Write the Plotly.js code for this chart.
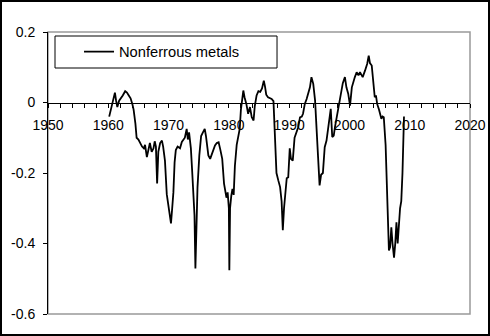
<!DOCTYPE html>
<html>
<head>
<meta charset="utf-8">
<script src="https://cdn.plot.ly/plotly-3.0.1.min.js"></script>
<style>
html,body{margin:0;padding:0;background:#fff;}
#wrap{position:relative;width:490px;height:336px;}
#chart{width:490px;height:336px;}
#frame{position:absolute;left:0;top:0;width:490px;height:336px;box-sizing:border-box;border:2px solid #000;pointer-events:none;}
</style>
</head>
<body>
<div id="wrap"><div id="chart"></div><div id="frame"></div></div>
<script>
const seriesName = "Nonferrous metals";
const years = [
1960.15,1960.5,1960.8,1961.0,1961.1,1961.3,1961.5,1961.8,1962.1,1962.4,1962.8,1963.1,1963.4,1963.7,1964.0,1964.2,1964.5,1964.7,
1965.0,1965.3,1965.6,1965.9,1966.1,1966.4,1966.7,1966.9,1967.2,1967.5,1967.7,1967.9,1968.1,1968.3,1968.6,1968.9,1969.1,1969.4,1969.7,1969.95,
1970.2,1970.4,1970.6,1970.8,1971.0,1971.2,1971.5,1971.9,1972.2,1972.5,1972.7,1973.0,1973.2,1973.4,1973.7,1973.9,1974.1,1974.3,1974.45,1974.6,1974.8,
1975.1,1975.4,1975.7,1976.0,1976.2,1976.4,1976.6,1976.9,1977.1,1977.4,1977.7,1978.0,1978.3,1978.6,1978.9,1979.2,1979.4,1979.6,1979.8,
1980.0,1980.08,1980.2,1980.4,1980.6,1980.8,1981.0,1981.3,1981.55,1981.8,1982.0,1982.2,1982.4,1982.6,1982.9,1983.2,1983.5,1983.8,1984.1,1984.3,1984.6,1984.9,
1985.2,1985.5,1985.8,1986.0,1986.2,1986.5,1986.8,1987.1,1987.4,1987.6,1987.9,1988.2,1988.5,1988.75,1988.95,1989.15,1989.4,1989.6,1989.85,
1990.1,1990.3,1990.6,1990.9,1991.2,1991.5,1991.8,1992.1,1992.3,1992.6,1992.9,1993.2,1993.45,1993.7,1994.0,1994.3,1994.55,1994.8,
1995.05,1995.3,1995.6,1995.9,1996.2,1996.5,1996.75,1996.9,1997.15,1997.4,1997.6,1997.9,1998.1,1998.3,1998.6,1998.9,1999.25,1999.5,1999.8,
2000.1,2000.4,2000.7,2000.9,2001.2,2001.5,2001.75,2002.0,2002.2,2002.6,2002.95,2003.2,2003.4,2003.7,2003.95,2004.2,2004.4,2004.6,2004.9,
2005.1,2005.3,2005.5,2005.7,2006.0,2006.2,2006.4,2006.55,2006.75,2006.95,2007.15,2007.4,2007.6,2007.8,2008.0,2008.2,2008.4,2008.6,2008.8,2009.05
];
const values = [
-0.040,-0.015,0.005,0.012,0.028,0.005,-0.013,0.005,0.012,0.020,0.032,0.028,0.020,0.012,-0.005,-0.020,-0.060,-0.100,
-0.105,-0.115,-0.125,-0.130,-0.120,-0.155,-0.125,-0.115,-0.140,-0.130,-0.110,-0.125,-0.230,-0.140,-0.115,-0.108,-0.125,-0.165,-0.260,-0.290,
-0.315,-0.343,-0.300,-0.255,-0.170,-0.135,-0.125,-0.130,-0.112,-0.105,-0.100,-0.075,-0.105,-0.085,-0.130,-0.190,-0.260,-0.320,-0.471,-0.330,-0.240,
-0.150,-0.095,-0.085,-0.075,-0.095,-0.130,-0.150,-0.160,-0.150,-0.140,-0.122,-0.115,-0.113,-0.135,-0.160,-0.230,-0.258,-0.270,-0.255,
-0.300,-0.476,-0.300,-0.265,-0.245,-0.262,-0.180,-0.120,-0.098,-0.075,-0.020,0.015,0.034,0.015,-0.004,-0.032,-0.013,-0.042,-0.051,-0.010,0.020,0.032,
0.030,0.040,0.062,0.045,0.022,0.015,0.012,0.010,0.004,-0.070,-0.200,-0.221,-0.240,-0.280,-0.362,-0.300,-0.240,-0.215,-0.212,
-0.130,-0.160,-0.165,-0.100,-0.085,-0.070,-0.042,-0.040,-0.032,-0.004,0.010,0.025,0.043,0.072,0.053,0.006,-0.060,-0.155,
-0.235,-0.205,-0.200,-0.127,-0.108,-0.070,-0.023,-0.018,-0.098,-0.094,-0.070,-0.042,-0.023,0.005,0.035,0.055,0.072,0.043,0.025,
-0.009,0.043,0.065,0.072,0.086,0.077,0.086,0.075,0.072,0.091,0.110,0.133,0.112,0.105,0.062,0.015,0.020,-0.004,-0.020,
-0.032,-0.046,-0.040,-0.042,-0.120,-0.250,-0.390,-0.420,-0.410,-0.354,-0.400,-0.440,-0.400,-0.340,-0.400,-0.334,-0.300,-0.280,-0.200,-0.040
];
const xTickVals = [1950,1960,1970,1980,1990,2000,2010,2020];
const yTickVals = [0.2,0,-0.2,-0.4,-0.6];
const yTickText = ["0.2","0","-0.2","-0.4","-0.6"];

const font = {family:"Liberation Sans, Arial, sans-serif", size:14, color:"#000"};
const legendFont = {family:"Liberation Sans, Arial, sans-serif", size:14.7, color:"#000"};
const trace = {
  x: years, y: values, type:"scatter", mode:"lines", name: seriesName,
  line:{color:"#000", width:1.8}
};
const layout = {
  width:490, height:336,
  margin:{l:48, r:20, t:32, b:22, pad:0},
  paper_bgcolor:"#fff", plot_bgcolor:"#fff",
  font: font,
  showlegend:true,
  legend:{x:0.0735, y:0.929, xanchor:"left", yanchor:"middle", bgcolor:"rgba(0,0,0,0)",
          borderwidth:0, font:legendFont, itemwidth:30},
  xaxis:{range:[1950,2020], anchor:"free", position:0.75, tickmode:"array", tickvals:xTickVals,
         ticks:"outside", ticklen:4, tickcolor:"#000", tickwidth:1,
         minor:{dtick:2, tick0:1950, ticks:"outside", ticklen:4, tickcolor:"#000", tickwidth:1, showgrid:false},
         showline:true, linecolor:"#000", linewidth:1, showgrid:false, zeroline:false,
         tickfont:font, ticklabelstandoff:6},
  yaxis:{range:[-0.6,0.2], tickmode:"array", tickvals:yTickVals, ticktext:yTickText,
         ticks:"outside", ticklen:4, tickcolor:"#000", tickwidth:1,
         showline:true, linecolor:"#000", linewidth:1, showgrid:false, zeroline:false,
         tickfont:font, ticklabelstandoff:5},
  shapes:[
    {type:"rect", xref:"paper", yref:"paper", x0:0, x1:1, y0:0, y1:1,
     line:{color:"#999", width:1.5}, layer:"below"},
    {type:"rect", xref:"paper", yref:"paper", x0:0.0166, x1:0.5427, y0:0.8723, y1:0.9858,
     line:{color:"#000", width:1}, fillcolor:"#fff", layer:"below"}
  ]
};
Plotly.newPlot("chart", [trace], layout, {staticPlot:true, displayModeBar:false});
</script>
</body>
</html>
